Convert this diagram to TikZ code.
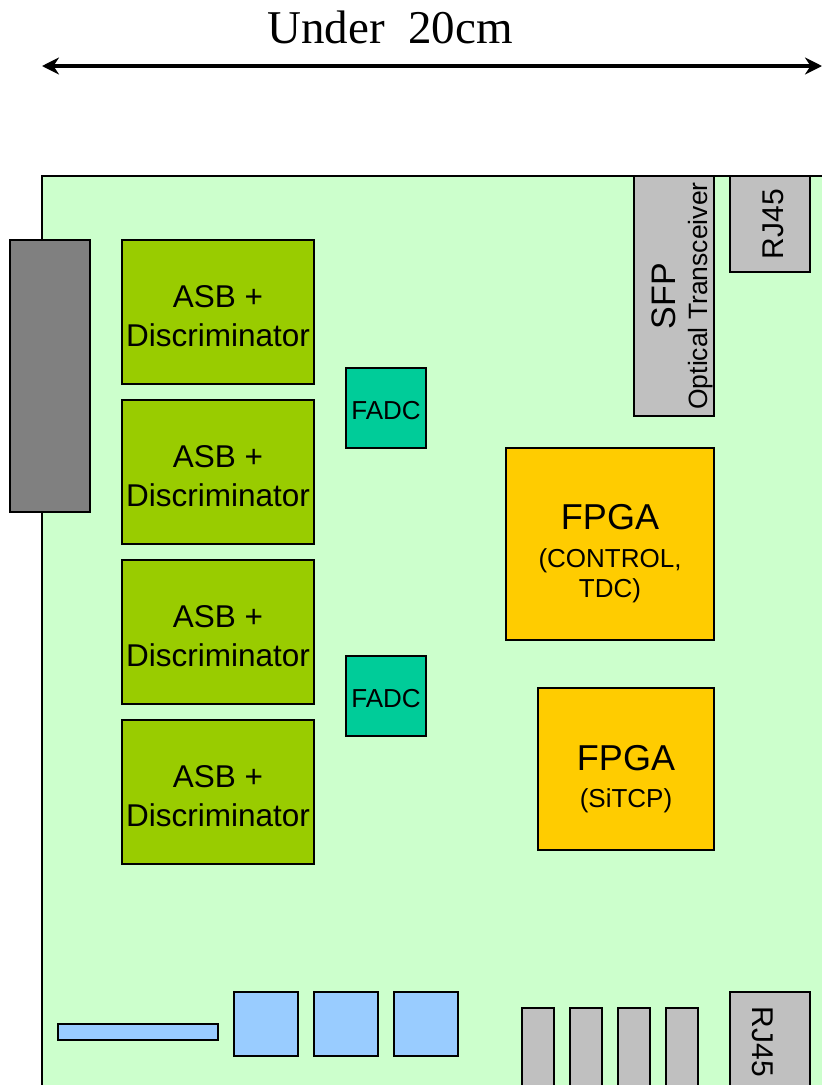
\documentclass[tikz,border=0pt]{standalone}
\usepackage{fontspec}
\setmainfont{Liberation Sans}
\newfontfamily\dimfont{Liberation Serif}
\usetikzlibrary{positioning,arrows.meta}

\definecolor{boardgreen}{HTML}{CCFFCC}
\definecolor{asbgreen}{HTML}{99CC00}
\definecolor{fadcteal}{HTML}{00CC99}
\definecolor{fpgayellow}{HTML}{FFCC00}
\definecolor{partgray}{HTML}{C0C0C0}
\definecolor{conngray}{HTML}{808080}
\definecolor{partblue}{HTML}{99CCFF}

\begin{document}
\begin{tikzpicture}[
x=1pt,y=-1pt,
node distance=16pt,
every node/.style={inner sep=0pt,outer sep=0pt},
part/.style={draw,line width=2pt,align=center},
asb/.style={part,fill=asbgreen,minimum width=192pt,minimum height=144pt,
font=\fontsize{31.5}{39}\selectfont,text height=68pt,text depth=0pt},
fadc/.style={part,fill=fadcteal,minimum width=80pt,minimum height=80pt,
font=\fontsize{26}{30}\selectfont,text height=22pt,text depth=0pt},
fpga/.style={part,fill=fpgayellow,font=\fontsize{26}{30}\selectfont,text depth=0pt},
gray/.style={part,fill=partgray},
pin/.style={gray,minimum width=32pt,minimum height=100pt},
chip/.style={part,fill=partblue,minimum width=64pt,minimum height=64pt},
>={Stealth[length=17pt,width=17pt]}
]

\useasboundingbox (0,0) rectangle (822,1085);
\clip (0,0) rectangle (822,1085);

\coordinate (dimL) at (42,66);
\coordinate (dimR) at (822,66);
\draw[<->,line width=3.6pt](dimL)--(dimR);
\node (dimtext)[anchor=base,font=\dimfont\fontsize{47}{50}\selectfont] at (390,43){Under~~20cm};

\draw[line width=2pt,fill=boardgreen] (42,176) rectangle (880,1140);

\node (conn)[part,fill=conngray,minimum width=80pt,minimum height=272pt] at (50,376){};

\node (asb1)[asb] at (218,312){ASB +\\Discriminator};
\node (asb2)[asb,below=of asb1]{ASB +\\Discriminator};
\node (asb3)[asb,below=of asb2]{ASB +\\Discriminator};
\node (asb4)[asb,below=of asb3]{ASB +\\Discriminator};

\node (fadc1)[fadc] at (386,408){FADC};
\node (fadc2)[fadc] at (386,696){FADC};

\node (sfp)[gray,rotate=90,minimum width=240pt,minimum height=80pt,
font=\fontsize{26.5}{32}\selectfont,text height=66pt,text depth=0pt] at (674,296)
{{\fontsize{34}{34}\selectfont SFP}\\Optical Transceiver};

\node (rjtop)[gray,rotate=90,minimum width=96pt,minimum height=80pt,
font=\fontsize{30}{36}\selectfont,text height=26pt,text depth=0pt] at (770,224){RJ45};

\node (fpgactl)[fpga,minimum width=208pt,minimum height=192pt,text height=106pt] at (610,544)
{{\fontsize{36}{36}\selectfont FPGA}\\[8pt](CONTROL,\\TDC)};
\node (fpgatcp)[fpga,minimum width=176pt,minimum height=162pt,text height=76pt] at (626,769)
{{\fontsize{36}{36}\selectfont FPGA}\\[7pt](SiTCP)};

\node (bar)[part,fill=partblue,minimum width=160pt,minimum height=16pt] at (138,1032){};
\node (chip1)[chip] at (266,1024){};
\node (chip2)[chip,right=of chip1]{};
\node (chip3)[chip,right=of chip2]{};

\node (pin1)[pin] at (538,1058){};
\node (pin2)[pin,right=of pin1]{};
\node (pin3)[pin,right=of pin2]{};
\node (pin4)[pin,right=of pin3]{};

\node (rjbottom)[gray,rotate=-90,minimum width=100pt,minimum height=80pt,
font=\fontsize{30}{36}\selectfont,text height=36pt,text depth=0pt] at (770,1042){RJ45};

\end{tikzpicture}
\end{document}
